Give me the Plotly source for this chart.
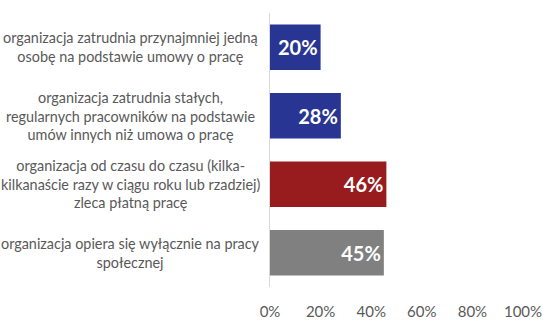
import plotly.graph_objects as go

categories = [
    "organizacja zatrudnia przynajmniej jedną<br>osobę na podstawie umowy o pracę",
    "organizacja zatrudnia stałych,<br>regularnych pracowników na podstawie<br>umów innych niż umowa o pracę",
    "organizacja od czasu do czasu (kilka-<br>kilkanaście razy w ciągu roku lub rzadziej)<br>zleca płatną pracę",
    "organizacja opiera się wyłącznie na pracy<br>społecznej",
]
values = [20, 28, 46, 45]
colors = ["#283593", "#283593", "#981B1E", "#808080"]
tick_vals = [0, 20, 40, 60, 80, 100]
tick_text = ["0%", "20%", "40%", "60%", "80%", "100%"]

ypos = list(range(len(categories)))

fig = go.Figure(go.Bar(
    x=values, y=ypos, orientation="h",
    marker=dict(color=colors, line=dict(width=0)),
    text=[f"{v}%" for v in values],
    textposition="inside", insidetextanchor="end",
    textfont=dict(family="Lato", size=20, color="white", weight="bold"),
    textangle=0, hoverinfo="skip",
))

for yy, c in zip(ypos, categories):
    fig.add_annotation(x=-0.55, xref="paper", y=yy, yref="y", text=c,
                       showarrow=False, align="center", xanchor="center",
                       font=dict(family="Lato", size=14.4, color="#595959"))

fig.update_layout(
    width=555, height=325, margin=dict(l=270, r=32, t=13, b=38, autoexpand=False),
    paper_bgcolor="white", plot_bgcolor="white", bargap=0.335,
    showlegend=False,
    xaxis=dict(range=[0, 100], tickvals=tick_vals, ticktext=tick_text,
               showgrid=False, zeroline=False, showline=False, automargin=False,
               ticks="outside", ticklen=11, tickcolor="rgba(0,0,0,0)",
               tickfont=dict(family="Lato", size=15, color="#595959")),
    yaxis=dict(range=[3.5, -0.5], showticklabels=False, showgrid=False, automargin=False,
               zeroline=False, showline=True, linecolor="#D9D9D9", linewidth=1),
)
fig.write_html("out.html")
